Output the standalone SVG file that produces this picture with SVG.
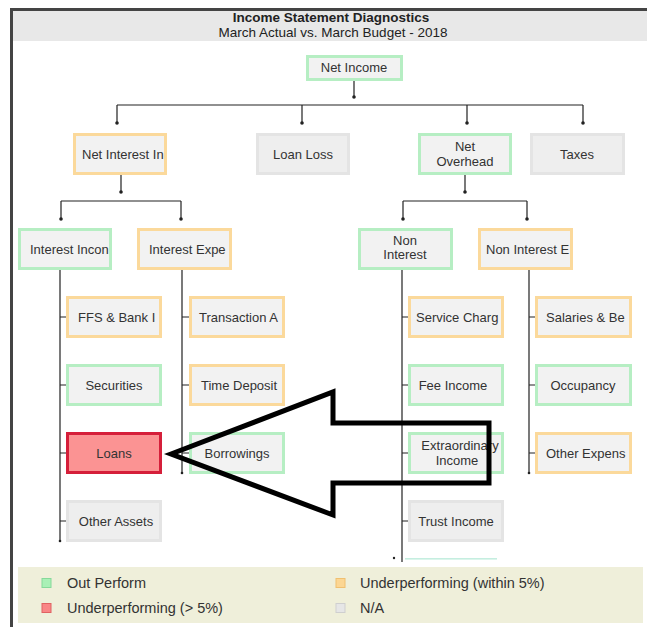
<svg xmlns="http://www.w3.org/2000/svg" width="647" height="627" viewBox="0 0 647 627">
<style>
.bg{fill:#ffffff}
.t{font-family:"Liberation Sans",Arial,sans-serif;font-size:13px;fill:#333333}
.c{text-anchor:middle}
.title{font-family:"Liberation Sans",Arial,sans-serif;font-size:13.5px;fill:#222222;text-anchor:middle}
.g{fill:#f2f2f2;stroke:#b6eec3;stroke-width:3}
.o{fill:#f2f2f2;stroke:#fbd99b;stroke-width:3}
.n{fill:#eeeeee;stroke:#e4e4e4;stroke-width:3}
.r{fill:#fb9393;stroke:#d51f3a;stroke-width:3}
.ln{fill:none;stroke:#222222;stroke-width:1.2}
.dot{fill:#222222}
.lg{font-family:"Liberation Sans",Arial,sans-serif;font-size:14.5px;fill:#333333}
</style>
<rect class="bg" x="0" y="0" width="647" height="627"/>
<g id="frame">
<rect x="12" y="10" width="635" height="31" fill="#e8e8e8"/>
<rect x="10" y="8" width="637" height="3" fill="#444444"/>
<rect x="10" y="8" width="3" height="619" fill="#444444"/>
<text class="title" x="331" y="22" font-weight="bold">Income Statement Diagnostics</text>
<text class="title" x="333" y="37">March Actual vs. March Budget - 2018</text>
</g>
<g id="connectors">
<path class="ln" d="M354,80V97 M117,105H583 M117,105V123 M302,105V123 M467,105V123 M583,105V123"/>
<path class="ln" d="M121,175V192 M61,201H181 M61,201V219 M181,201V219"/>
<path class="ln" d="M465,175V192 M403,201H527 M403,201V219 M527,201V219"/>
<path class="ln" d="M60,270V540 M60,317H66 M60,385H66 M60,453H66 M60,521H66"/>
<path class="ln" d="M182,270V472 M182,317H189 M182,385H189 M182,453H189"/>
<path class="ln" d="M402,270V562 M402,317H408 M402,385H408 M402,453H408 M402,521H408"/>
<path class="ln" d="M529,270V472 M529,317H535 M529,385H535 M529,453H535"/>
<circle class="dot" cx="354" cy="97" r="1.8"/>
<circle class="dot" cx="117" cy="123" r="1.8"/>
<circle class="dot" cx="302" cy="123" r="1.8"/>
<circle class="dot" cx="467" cy="123" r="1.8"/>
<circle class="dot" cx="583" cy="123" r="1.8"/>
<circle class="dot" cx="121" cy="192" r="1.8"/>
<circle class="dot" cx="61" cy="219" r="1.8"/>
<circle class="dot" cx="181" cy="219" r="1.8"/>
<circle class="dot" cx="465" cy="192" r="1.8"/>
<circle class="dot" cx="403" cy="219" r="1.8"/>
<circle class="dot" cx="527" cy="219" r="1.8"/>
<circle class="dot" cx="60" cy="541" r="1.3"/>
<circle class="dot" cx="182" cy="473" r="1.3"/>
<circle class="dot" cx="529" cy="473" r="1.3"/>
<circle class="dot" cx="394" cy="558" r="1.2"/>
</g>
<g id="node-net-income"><rect class="g" x="307.5" y="56.5" width="94" height="23"/><text class="t c" x="354" y="72">Net Income</text></g>
<g id="node-net-interest"><rect class="o" x="74.5" y="134.5" width="91" height="39"/><text class="t" x="82" y="159">Net Interest In</text></g>
<g id="node-loan-loss"><rect class="n" x="257.5" y="134.5" width="91" height="39"/><text class="t c" x="303" y="159">Loan Loss</text></g>
<g id="node-net-overhead"><rect class="g" x="419.5" y="134.5" width="91" height="39"/><text class="t c" x="465" y="151">Net</text><text class="t c" x="465" y="166">Overhead</text></g>
<g id="node-taxes"><rect class="n" x="531.5" y="134.5" width="92" height="39"/><text class="t c" x="577" y="159">Taxes</text></g>
<g id="node-interest-income"><rect class="g" x="19.5" y="229.5" width="91" height="39"/><text class="t" x="30" y="254">Interest Incon</text></g>
<g id="node-interest-expense"><rect class="o" x="138.5" y="229.5" width="92" height="39"/><text class="t" x="149" y="254">Interest Expe</text></g>
<g id="node-non-interest-income"><rect class="g" x="359.5" y="229.5" width="92" height="39"/><text class="t c" x="405" y="245">Non</text><text class="t c" x="405" y="259">Interest</text></g>
<g id="node-non-interest-expense"><rect class="o" x="479.5" y="229.5" width="92" height="39"/><text class="t" x="486" y="254">Non Interest E</text></g>
<g id="node-ffs"><rect class="o" x="67.5" y="297.5" width="93" height="39"/><text class="t" x="78" y="322">FFS &amp; Bank I</text></g>
<g id="node-securities"><rect class="g" x="67.5" y="365.5" width="93" height="39"/><text class="t c" x="114" y="390">Securities</text></g>
<g id="node-loans"><rect class="r" x="67.5" y="433.5" width="93" height="39"/><text class="t c" x="114" y="458" fill="#5a2a2a">Loans</text></g>
<g id="node-other-assets"><rect class="n" x="67.5" y="501.5" width="93" height="39"/><text class="t c" x="116" y="526">Other Assets</text></g>
<g id="node-transaction"><rect class="o" x="190.5" y="297.5" width="93" height="39"/><text class="t" x="199" y="322">Transaction A</text></g>
<g id="node-time-deposits"><rect class="o" x="190.5" y="365.5" width="93" height="39"/><text class="t" x="201" y="390">Time Deposit</text></g>
<g id="node-borrowings"><rect class="g" x="190.5" y="433.5" width="93" height="39"/><text class="t c" x="237" y="458">Borrowings</text></g>
<g id="node-service"><rect class="o" x="409.5" y="297.5" width="93" height="39"/><text class="t" x="416" y="322">Service Charg</text></g>
<g id="node-fee-income"><rect class="g" x="409.5" y="365.5" width="93" height="39"/><text class="t c" x="453" y="390">Fee Income</text></g>
<g id="node-extraordinary"><rect class="g" x="409.5" y="433.5" width="93" height="39"/><text class="t c" x="460" y="450">Extraordinary</text><text class="t c" x="457" y="465">Income</text></g>
<g id="node-trust"><rect class="n" x="409.5" y="501.5" width="93" height="39"/><text class="t c" x="456" y="526">Trust Income</text></g>
<g id="node-partial"><rect x="405" y="558" width="92" height="1.6" fill="#c5eee0"/></g>
<g id="node-salaries"><rect class="o" x="536.5" y="297.5" width="94" height="39"/><text class="t" x="546" y="322">Salaries &amp; Be</text></g>
<g id="node-occupancy"><rect class="g" x="536.5" y="365.5" width="94" height="39"/><text class="t c" x="583" y="390">Occupancy</text></g>
<g id="node-other-expense"><rect class="o" x="536.5" y="433.5" width="94" height="39"/><text class="t" x="546" y="458">Other Expens</text></g>
<g id="arrow"><path d="M171,454 L333,392 L333,423 L489,423 L489,483 L333,483 L333,515 Z" fill="none" stroke="#000000" stroke-width="5" stroke-linejoin="miter" stroke-miterlimit="10"/></g>
<g id="legend">
<rect x="18" y="567" width="625" height="56" fill="#efefda"/>
<rect x="42" y="578.5" width="9" height="9" fill="#a9f0b6" stroke="#86d99a" stroke-width="1"/>
<text class="lg" x="67" y="588">Out Perform</text>
<rect x="42" y="603.5" width="9" height="9" fill="#f98686" stroke="#e06262" stroke-width="1"/>
<text class="lg" x="67" y="613">Underperforming (&gt; 5%)</text>
<rect x="336" y="578.5" width="9" height="9" fill="#fcd693" stroke="#f0c070" stroke-width="1"/>
<text class="lg" x="360" y="588">Underperforming (within 5%)</text>
<rect x="336" y="603.5" width="9" height="9" fill="#e6e6e6" stroke="#cfcfcf" stroke-width="1"/>
<text class="lg" x="360" y="613">N/A</text>
</g>
</svg>
